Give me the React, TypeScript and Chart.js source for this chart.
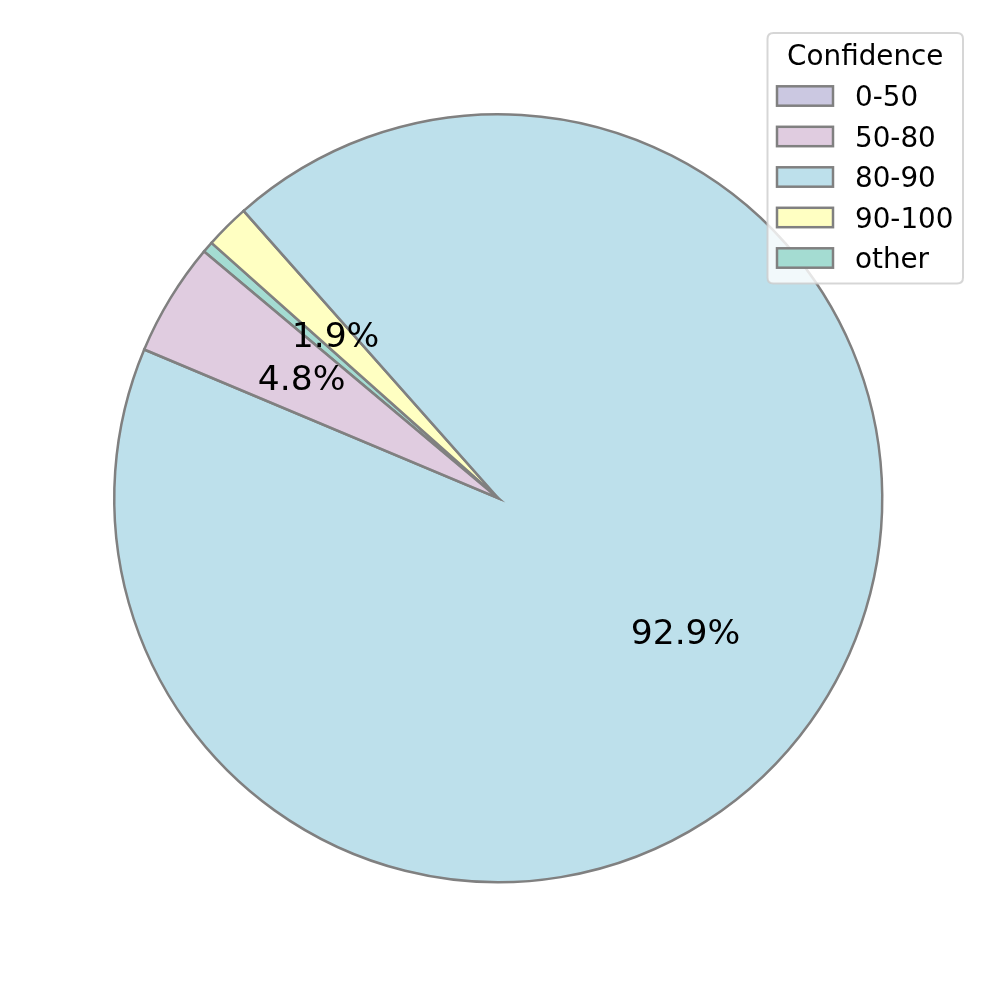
import React, { useEffect, useRef } from "react";
import { Chart, registerables } from "chart.js";

Chart.register(...registerables);

// ---- data ----
const categories = ["0-50", "50-80", "80-90", "90-100", "other"];
const shares = [0, 4.78, 92.87, 1.88, 0.47];
const fillColors = [
  "rgba(190,186,218,0.8)",
  "rgba(216,191,216,0.8)",
  "rgba(173,216,230,0.8)",
  "rgba(255,255,179,0.8)",
  "rgba(141,211,199,0.8)",
];
const legendTitle = "Confidence";
const startAngleDeg = 140; // matplotlib-style start angle, counter-clockwise

const FONT = "'DejaVu Sans', 'Liberation Sans', sans-serif";
const EDGE = "rgba(128,128,128,1)";

export default function App() {
  const ref = useRef<HTMLCanvasElement | null>(null);

  useEffect(() => {
    if (!ref.current) return;
    // Chart.js draws clockwise; matplotlib draws counter-clockwise -> reverse order
    const order = categories.map((_, i) => categories.length - 1 - i);
    const labels = order.map((i) => categories[i]);
    const values = order.map((i) => shares[i]);
    const colors = order.map((i) => fillColors[i]);
    const total = shares.reduce((a, b) => a + b, 0);

    const pctLabels = {
      id: "pctLabels",
      afterDatasetsDraw(chart: any) {
        const ctx = chart.ctx;
        const meta = chart.getDatasetMeta(0);
        ctx.save();
        ctx.font = `34.5px ${FONT}`;
        ctx.fillStyle = "#000";
        ctx.textAlign = "center";
        ctx.textBaseline = "alphabetic";
        meta.data.forEach((arc: any, i: number) => {
          const pct = (values[i] / total) * 100;
          if (pct < 1) return;
          const p = arc.getProps(["x", "y", "startAngle", "endAngle", "outerRadius"], true);
          const mid = (p.startAngle + p.endAngle) / 2;
          const px = p.x + Math.cos(mid) * p.outerRadius * 0.6;
          const py = p.y + Math.sin(mid) * p.outerRadius * 0.6;
          ctx.fillText(pct.toFixed(1) + "%", px, py + 11.5);
        });
        ctx.restore();
      },
    };

    const mplLegend = {
      id: "mplLegend",
      afterDraw(chart: any) {
        const ctx = chart.ctx;
        ctx.save();
        const bx = 767.5, by = 33, bw = 195.5, bh = 250.5, r = 6;
        ctx.beginPath();
        ctx.moveTo(bx + r, by);
        ctx.lineTo(bx + bw - r, by);
        ctx.quadraticCurveTo(bx + bw, by, bx + bw, by + r);
        ctx.lineTo(bx + bw, by + bh - r);
        ctx.quadraticCurveTo(bx + bw, by + bh, bx + bw - r, by + bh);
        ctx.lineTo(bx + r, by + bh);
        ctx.quadraticCurveTo(bx, by + bh, bx, by + bh - r);
        ctx.lineTo(bx, by + r);
        ctx.quadraticCurveTo(bx, by, bx + r, by);
        ctx.closePath();
        ctx.fillStyle = "rgba(255,255,255,0.8)";
        ctx.fill();
        ctx.strokeStyle = "rgba(204,204,204,0.8)";
        ctx.lineWidth = 2;
        ctx.stroke();

        ctx.fillStyle = "#000";
        ctx.font = `27.8px ${FONT}`;
        ctx.textAlign = "center";
        ctx.textBaseline = "alphabetic";
        ctx.fillText(legendTitle, bx + bw / 2, 65);

        ctx.textAlign = "left";
        categories.forEach((name, i) => {
          const cy = 96 + i * 40.5;
          ctx.fillStyle = "#fff";
          ctx.fillRect(777, cy - 9.7, 56, 19.4);
          ctx.fillStyle = fillColors[i];
          ctx.fillRect(777, cy - 9.7, 56, 19.4);
          ctx.strokeStyle = EDGE;
          ctx.lineWidth = 2.5;
          ctx.strokeRect(777, cy - 9.7, 56, 19.4);
          ctx.fillStyle = "#000";
          ctx.fillText(name, 855, cy + 10);
        });
        ctx.restore();
      },
    };

    const chart = new Chart(ref.current, {
      type: "pie",
      data: {
        labels,
        datasets: [
          {
            data: values,
            backgroundColor: colors,
            borderColor: EDGE,
            borderWidth: 2.5,
            borderAlign: "center",
            borderJoinStyle: "miter",
          } as any,
        ],
      },
      options: {
        responsive: false,
        animation: false,
        devicePixelRatio: 1,
        rotation: 90 - startAngleDeg,
        layout: { padding: { left: 113, top: 113, right: 113.5, bottom: 113.5 } },
        plugins: {
          legend: { display: false },
          tooltip: { enabled: false },
        },
        events: [],
      },
      plugins: [pctLabels, mplLegend],
    });
    return () => chart.destroy();
  }, []);

  return (
    <div style={{ position: "fixed", left: 0, top: 0, width: 997, height: 997, background: "#fff" }}>
      <canvas ref={ref} width={997} height={997} style={{ display: "block" }} />
    </div>
  );
}
